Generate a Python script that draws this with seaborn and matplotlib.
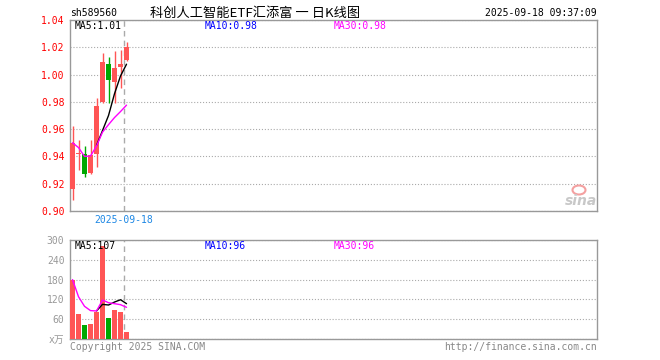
import matplotlib
matplotlib.use("Agg")
import matplotlib.pyplot as plt
import seaborn as sns
import pandas as pd
from matplotlib.patches import Ellipse

# daily data, 2025-09-05 .. 2025-09-18
dates = ['2025-09-05', '2025-09-08', '2025-09-09', '2025-09-10', '2025-09-11',
         '2025-09-12', '2025-09-15', '2025-09-16', '2025-09-17', '2025-09-18']
opens = [0.916, 0.9420, 0.942, 0.928, 0.9415, 0.980, 1.0076, 0.9945, 1.0056, 1.0106]
closes = [0.950, 0.9428, 0.927, 0.941, 0.977, 1.009, 0.996, 1.005, 1.0076, 1.020]
highs = [0.962, 0.952, 0.948, 0.952, 0.983, 1.016, 1.013, 1.0175, 1.018, 1.024]
lows = [0.908, 0.930, 0.925, 0.927, 0.932, 0.979, 0.979, 0.979, 0.990, 1.0096]
volumes = [180, 76, 42, 45, 82, 282, 63, 88, 81, 21]  # 万

# moving averages as shown on the chart
ma5_price = [None, None, None, None, 0.948, 0.959, 0.970, 0.986, 0.999, 1.0076]
ma30_price = [0.950, 0.9465, 0.940, 0.9403, 0.9476, 0.9578, 0.9633, 0.9685, 0.9729, 0.9776]
ma5_vol = [None, None, None, None, 85, 105, 103, 112, 119, 107]
ma30_vol = [180, 128, 99, 86, 85, 118, 110, 107, 104, 96]

stock_code = 'sh589560'
title = '科创人工智能ETF汇添富 一 日K线图'
timestamp = '2025-09-18 09:37:09'
price_ticks = [0.90, 0.92, 0.94, 0.96, 0.98, 1.00, 1.02, 1.04]
vol_ticks = [0, 60, 120, 180, 240, 300]
vol_tick_labels = ['x万', '60', '120', '180', '240', '300']

RED = '#ff5555'
GREEN = '#00a800'
FRAME = '#999999'

sns.set_style('white')
plt.rcParams['font.family'] = ['DejaVu Sans Mono', 'Noto Sans CJK SC']

df = pd.DataFrame({'date': dates, 'open': opens, 'close': closes,
                   'high': highs, 'low': lows, 'vol': volumes,
                   'ma5': ma5_price, 'ma30': ma30_price,
                   'vma5': ma5_vol, 'vma30': ma30_vol})
df['i'] = range(len(df))
df['up'] = df['close'] >= df['open']
df['color'] = df['up'].map({True: RED, False: GREEN})

W, H = 660, 360
fig = plt.figure(figsize=(6.6, 3.6), dpi=100)


def px(x, y):
    return x / W, 1 - y / H


ax = fig.add_axes([70 / W, 1 - 211 / H, 527 / W, 191 / H])
axv = fig.add_axes([70 / W, 1 - 339 / H, 527 / W, 99 / H])

# date divider (left side of the 2025-09-18 candle)
div = dates.index('2025-09-18') - 0.42

# --- price panel ---
ax.vlines(df['i'], df['low'], df['high'], colors=df['color'], lw=1, zorder=3)
body_lo = df[['open', 'close']].min(axis=1)
body_h = (df['close'] - df['open']).abs().clip(lower=0.0008)
ax.bar(df['i'], body_h, bottom=body_lo, width=0.8, color=df['color'], lw=0, zorder=4)
sns.lineplot(data=df, x='i', y='ma5', ax=ax, color='black', lw=1, zorder=5)
sns.lineplot(data=df, x='i', y='ma30', ax=ax, color='#ff00ff', lw=1, zorder=5)
ax.axvline(div, color='#aaaaaa', ls=(0, (4, 3)), lw=1, zorder=2)

ax.set_xlim(-0.42, 87.41)
ax.set_ylim(0.90, 1.04)
ax.set_yticks(price_ticks)
ax.set_yticklabels([f'{t:.2f}' for t in price_ticks])
ax.set_xticks([div])
ax.set_xticklabels(['2025-09-18'])
ax.tick_params(axis='y', length=0, pad=4, labelsize=7, labelcolor='#ff0000')
ax.tick_params(axis='x', length=0, pad=3, labelsize=7, labelcolor='#1e88e5')
ax.grid(axis='y', ls=':', color='#aaaaaa', lw=0.8)
ax.set_xlabel('')
ax.set_ylabel('')

# --- volume panel ---
axv.bar(df['i'], df['vol'], width=0.8, color=df['color'], lw=0, zorder=3)
sns.lineplot(data=df, x='i', y='vma5', ax=axv, color='black', lw=1, zorder=5)
sns.lineplot(data=df, x='i', y='vma30', ax=axv, color='#ff00ff', lw=1, zorder=5)
axv.axvline(div, color='#aaaaaa', ls=(0, (4, 3)), lw=1, zorder=2)
axv.set_xlim(-0.42, 87.41)
axv.set_ylim(0, 300)
axv.set_yticks(vol_ticks)
axv.set_yticklabels(vol_tick_labels)
axv.set_xticks([])
axv.tick_params(axis='y', length=0, pad=4, labelsize=7, labelcolor='#999999')
axv.grid(axis='y', ls=':', color='#aaaaaa', lw=0.8)
axv.set_xlabel('')
axv.set_ylabel('')

for a in (ax, axv):
    for s in a.spines.values():
        s.set_color(FRAME)
        s.set_linewidth(1)
        s.set_visible(True)
    a.set_axisbelow(True)

# --- header and labels ---
fig.text(*px(70, 13), stock_code, fontsize=7, va='center', ha='left', color='black')
fig.text(*px(150, 13), title, fontsize=9.5, va='center', ha='left', color='black',
         family=['Noto Sans CJK SC', 'DejaVu Sans'])
fig.text(*px(597, 13), timestamp, fontsize=7, va='center', ha='right', color='black')

fig.text(*px(75, 26), f'MA5:{ma5_price[-1]:.2f}', fontsize=7, va='center', color='black')
fig.text(*px(205, 26), 'MA10:0.98', fontsize=7, va='center', color='#0000ff')
fig.text(*px(334, 26), f'MA30:{ma30_price[-1]:.2f}', fontsize=7, va='center', color='#ff00ff')

fig.text(*px(75, 246), f'MA5:{ma5_vol[-1]}', fontsize=7, va='center', color='black')
fig.text(*px(205, 246), 'MA10:96', fontsize=7, va='center', color='#0000ff')
fig.text(*px(334, 246), f'MA30:{ma30_vol[-1]}', fontsize=7, va='center', color='#ff00ff')

fig.text(*px(70, 347), 'Copyright 2025 SINA.COM', fontsize=7, va='center', color='#888888')
fig.text(*px(597, 347), 'http://finance.sina.com.cn', fontsize=7, va='center',
         ha='right', color='#888888')

# sina watermark
fig.text(*px(597, 201), 'sina', fontsize=10, fontweight='bold', style='italic',
         family='DejaVu Sans', color='#c8c8c8', ha='right', va='center')
fig.patches.append(Ellipse(px(579, 190), 13 / W, 9 / H, transform=fig.transFigure,
                           fc='none', ec='#f4a0a0', lw=1.5))

fig.savefig('out.png', dpi=100)
